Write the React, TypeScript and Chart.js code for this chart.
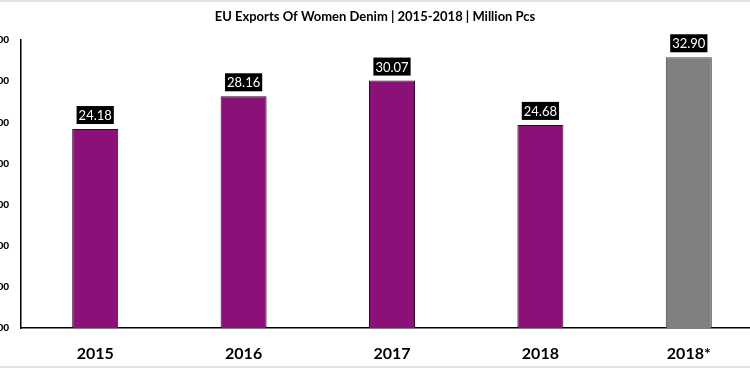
import React, { useEffect, useRef } from "react";
import { Chart, registerables } from "chart.js";

Chart.register(...registerables);

const categories = ["2015", "2016", "2017", "2018", "2018*"];
const values = [24.18, 28.16, 30.07, 24.68, 32.9];
const barColors = ["#8B1178", "#8B1178", "#8B1178", "#8B1178", "#808080"];
const borderColors = ["#2e0627", "#2e0627", "#2e0627", "#2e0627", "#404040"];
const titleText = "EU Exports Of Women Denim | 2015-2018 | Million Pcs";
const yMax = 35;
const yStep = 5;

const labelPlugin = {
  id: "valueLabels",
  afterDatasetsDraw(chart: any) {
    const ctx = chart.ctx;
    const meta = chart.getDatasetMeta(0);
    ctx.save();
    ctx.font = "13px Lato";
    ctx.textAlign = "center";
    ctx.textBaseline = "middle";
    meta.data.forEach((bar: any, i: number) => {
      const txt = values[i].toFixed(2);
      const w = ctx.measureText(txt).width + 4;
      const h = 18;
      const cx = bar.x;
      const bottom = bar.y - 5;
      ctx.fillStyle = "#000";
      ctx.fillRect(cx - w / 2, bottom - h, w, h);
      ctx.fillStyle = "#fff";
      ctx.fillText(txt, cx, bottom - h / 2 + 1);
    });
    ctx.restore();
  },
};

const titlePlugin = {
  id: "customTitle",
  afterDraw(chart: any) {
    const ctx = chart.ctx;
    ctx.save();
    ctx.font = "bold 13px Lato";
    ctx.fillStyle = "#000";
    ctx.textAlign = "center";
    ctx.textBaseline = "middle";
    ctx.fillText(titleText, chart.width / 2, 17);
    ctx.restore();
  },
};

export default function App() {
  const ref = useRef<HTMLCanvasElement | null>(null);
  useEffect(() => {
    if (!ref.current) return;
    const chart = new Chart(ref.current, {
      type: "bar",
      data: {
        labels: categories,
        datasets: [
          {
            data: values,
            backgroundColor: barColors,
            borderColor: borderColors,
            borderWidth: 1,
            barPercentage: 0.31,
            categoryPercentage: 1,
          },
        ],
      },
      options: {
        animation: false,
        responsive: false,
        maintainAspectRatio: false,
        layout: { padding: { top: 40, right: 17, left: 0, bottom: 0 } },
        plugins: {
          legend: { display: false },
          tooltip: { enabled: false },
          title: { display: false },
        },
        scales: {
          x: {
            grid: { display: false, drawTicks: false },
            border: { display: true, color: "#000", width: 1.5 },
            ticks: {
              color: "#000",
              font: { family: "Lato", weight: "bold", size: 16 },
              padding: 16,
            },
            afterFit(scale: any) {
              scale.height = 42;
            },
          },
          y: {
            min: 0,
            max: yMax,
            grid: { display: false, drawTicks: false },
            border: { display: true, color: "#000", width: 1.5 },
            ticks: {
              stepSize: yStep,
              color: "#000",
              font: { family: "Lato", weight: "900", size: 10 },
              padding: 12,
              callback: (v: any) => Number(v).toFixed(2),
            },
            afterFit(scale: any) {
              scale.width = 51;
            },
          },
        },
      },
      plugins: [labelPlugin, titlePlugin],
    });
    return () => chart.destroy();
  }, []);
  return (
    <div
      style={{
        position: "fixed",
        left: 0,
        top: 0,
        width: 750,
        height: 370,
        overflow: "hidden",
        background: "#fff",
      }}
    >
      <div style={{ position: "absolute", left: 0, top: 0, width: 750, height: 2, background: "#e3e3e3" }} />
      <canvas
        ref={ref}
        width={810}
        height={370}
        style={{ position: "absolute", left: -30, top: 0, width: 810, height: 370 }}
      />
      <div style={{ position: "absolute", left: 0, top: 366, width: 750, height: 2, background: "#e3e3e3" }} />
    </div>
  );
}
